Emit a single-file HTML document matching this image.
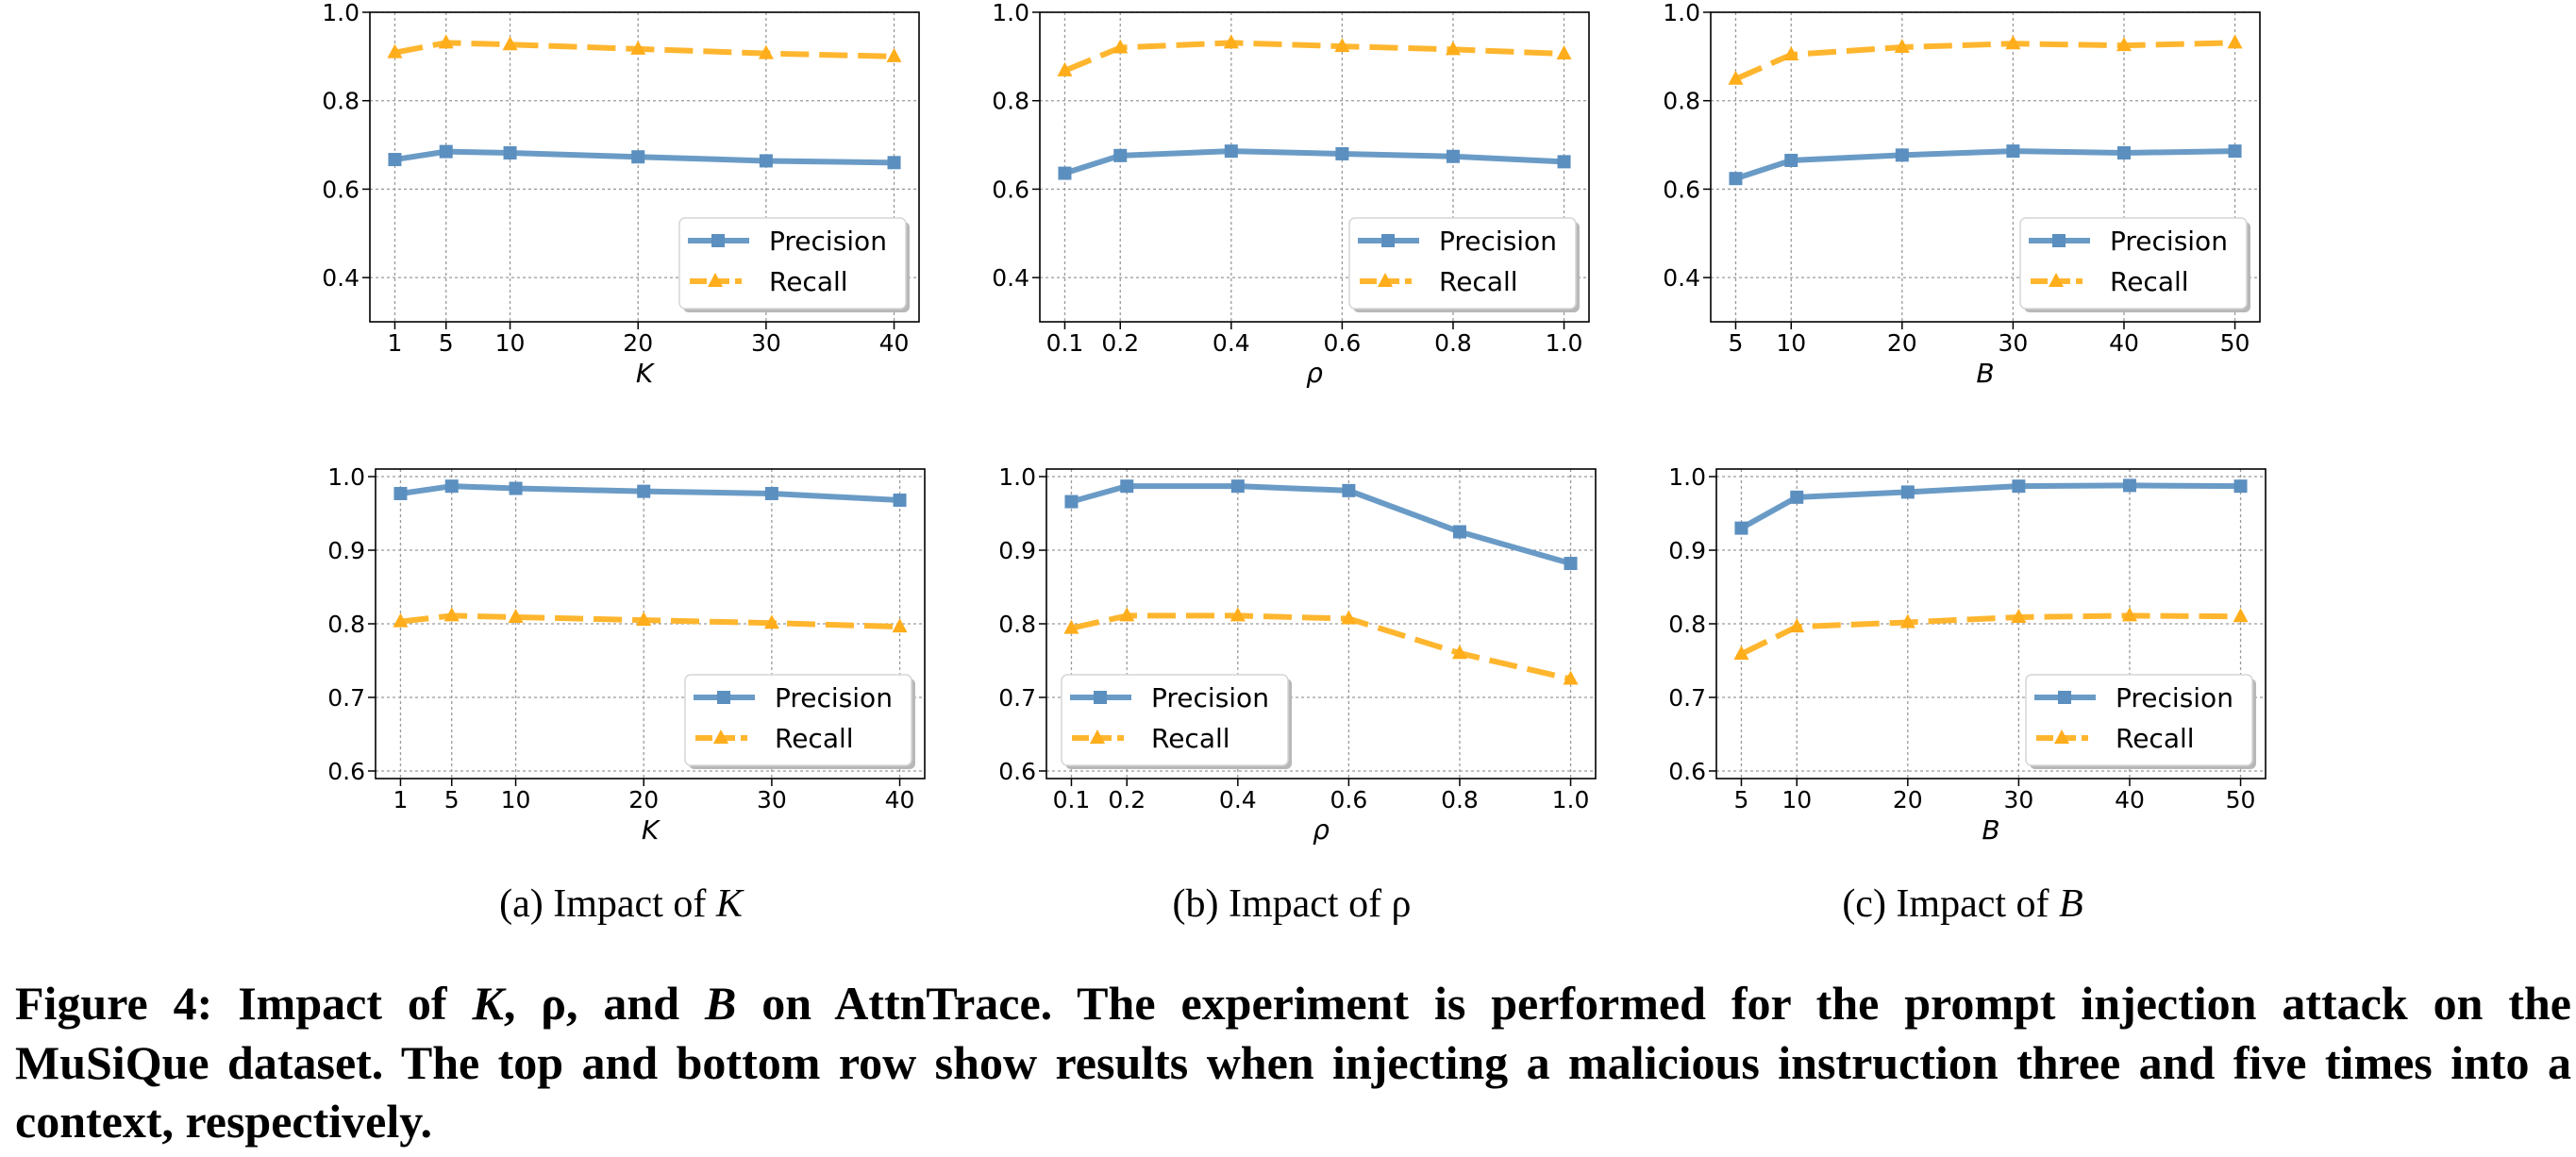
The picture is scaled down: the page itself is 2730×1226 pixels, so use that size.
<!DOCTYPE html>
<html><head><meta charset="utf-8">
<style>
html,body{margin:0;padding:0;background:#fff;}
body{width:2730px;height:1226px;position:relative;overflow:hidden;}
svg{position:absolute;left:0;top:0;}
.cap{position:absolute;font-family:"Liberation Serif",serif;color:#000;}
.sub{font-size:42px;top:934px;white-space:nowrap;transform:translateX(-50%);}
.line{left:16px;width:2709px;font-size:50px;font-weight:bold;text-align:justify;text-align-last:justify;white-space:nowrap;height:60px;line-height:60px;}
</style></head>
<body>
<svg id="fig" width="2730" height="1226" xmlns="http://www.w3.org/2000/svg"></svg>

<div class="cap sub" style="left:658px">(a) Impact of <i>K</i></div>
<div class="cap sub" style="left:1369px">(b) Impact of ρ</div>
<div class="cap sub" style="left:2080px">(c) Impact of <i>B</i></div>

<div class="cap line" style="top:1033px;white-space:normal">Figure 4: Impact of <i>K</i>, ρ, and <i>B</i> on AttnTrace. The experiment is performed for the prompt injection attack on the</div>
<div class="cap line" style="top:1096px;white-space:normal">MuSiQue dataset. The top and bottom row show results when injecting a malicious instruction three and five times into a</div>
<div class="cap line" style="top:1158px;text-align-last:left">context, respectively.</div>

<script>
const xK = [1, 5, 10, 20, 30, 40];
const xRho = [0.1, 0.2, 0.4, 0.6, 0.8, 1.0];
const xB = [5, 10, 20, 30, 40, 50];
const xKLabels = ["1", "5", "10", "20", "30", "40"];
const xRhoLabels = ["0.1", "0.2", "0.4", "0.6", "0.8", "1.0"];
const xBLabels = ["5", "10", "20", "30", "40", "50"];
const yTopTicks = [0.4, 0.6, 0.8, 1.0];
const yBotTicks = [0.6, 0.7, 0.8, 0.9, 1.0];

const precTopK = [0.667, 0.685, 0.682, 0.673, 0.664, 0.660];
const recTopK = [0.909, 0.931, 0.927, 0.917, 0.907, 0.900];
const precTopRho = [0.636, 0.676, 0.686, 0.680, 0.674, 0.662];
const recTopRho = [0.868, 0.920, 0.931, 0.923, 0.916, 0.906];
const precTopB = [0.624, 0.665, 0.677, 0.686, 0.682, 0.686];
const recTopB = [0.849, 0.904, 0.921, 0.929, 0.925, 0.931];
const precBotK = [0.977, 0.987, 0.984, 0.980, 0.977, 0.968];
const recBotK = [0.803, 0.811, 0.809, 0.805, 0.801, 0.796];
const precBotRho = [0.966, 0.987, 0.987, 0.981, 0.925, 0.882];
const recBotRho = [0.794, 0.811, 0.811, 0.807, 0.760, 0.725];
const precBotB = [0.930, 0.972, 0.979, 0.987, 0.988, 0.987];
const recBotB = [0.759, 0.796, 0.802, 0.809, 0.811, 0.810];

const NS = "http://www.w3.org/2000/svg";
const svg = document.getElementById("fig");
const BLUE = "#6a9bc6", ORANGE = "#ffb62f";

function mk(tag, attrs, parent) {
  const e = document.createElementNS(NS, tag);
  for (const k in attrs) e.setAttribute(k, attrs[k]);
  (parent || svg).appendChild(e);
  return e;
}

function panel(p) {
  const g = mk("g", {});
  
  
  const xs = v => p.left + (v - p.xmin) / (p.xmax - p.xmin) * p.w;
  const ys = v => p.top + (p.ymax - v) / (p.ymax - p.ymin) * p.h;
  const bottom = p.top + p.h;
  // grid
  p.xv.forEach((v, i) => {
    const l = mk("line", {x1: xs(v), x2: xs(v), y1: p.top, y2: bottom, stroke: "#9a9a9a", "stroke-width": 1.3, "stroke-dasharray": "3,3"}, g);
    
    
    const tk = mk("line", {x1: xs(v), x2: xs(v), y1: bottom, y2: bottom + 8, stroke: "#000", "stroke-width": 1.5}, g);
    
    
    const t = mk("text", {x: xs(v), y: bottom + 31, "text-anchor": "middle", "font-family": "DejaVu Sans, sans-serif", "font-size": 25, fill: "#000"}, g);
    t.textContent = p.xl[i];
    
    
  });
  p.yt.forEach(v => {
    const l = mk("line", {x1: p.left, x2: p.left + p.w, y1: ys(v), y2: ys(v), stroke: "#9a9a9a", "stroke-width": 1.3, "stroke-dasharray": "3,3"}, g);
    
    
    const tk = mk("line", {x1: p.left - 8, x2: p.left, y1: ys(v), y2: ys(v), stroke: "#000", "stroke-width": 1.5}, g);
    
    
    const t = mk("text", {x: p.left - 11, y: ys(v) + 9, "text-anchor": "end", "font-family": "DejaVu Sans, sans-serif", "font-size": 25, fill: "#000"}, g);
    t.textContent = v.toFixed(1);
    
    
  });
  // series
  function series(vals, color, dashed, marker, nm) {
    const pts = p.xv.map((v, i) => xs(v) + "," + ys(vals[i])).join(" ");
    const pl = mk("polyline", {points: pts, fill: "none", stroke: color, "stroke-width": 6, "stroke-linejoin": "round"}, g);
    if (dashed) pl.setAttribute("stroke-dasharray", "30,11");
    
    
    p.xv.forEach((v, i) => {
      const cx = xs(v), cy = ys(vals[i]);
      let m;
      if (marker === "sq") m = mk("rect", {x: cx - 7, y: cy - 7, width: 14, height: 14, fill: "#5b8fbf"}, g);
      else m = mk("polygon", {points: `${cx},${cy - 9} ${cx - 8},${cy + 6} ${cx + 8},${cy + 6}`, fill: "#ffad1a"}, g);
      
      
    });
  }
  series(p.prec, BLUE, false, "sq", "precision");
  series(p.rec, ORANGE, true, "tri", "recall");
  // spine
  const fr = mk("rect", {x: p.left, y: p.top, width: p.w, height: p.h, fill: "none", stroke: "#000", "stroke-width": 1.6}, g);
  
  
  // x label
  const xl = mk("text", {x: p.left + p.w / 2, y: bottom + 64, "text-anchor": "middle", "font-family": "DejaVu Sans, sans-serif", "font-style": "italic", "font-size": 28, fill: "#000"}, g);
  xl.textContent = p.xlabel;
  
  
  // legend
  const lg = mk("g", {}, g);
  
  
  const lx = p.legLeft ? p.left + 16 : p.left + p.w - 254, ly = p.top + (p.top < 100 ? 218 : 218);
  mk("rect", {x: lx + 4, y: ly + 4, width: 240, height: 96, rx: 6, fill: "#b8b8b8"}, lg);
  mk("rect", {x: lx, y: ly, width: 240, height: 96, rx: 6, fill: "#fff", stroke: "#d6d6d6", "stroke-width": 1.5}, lg);
  mk("line", {x1: lx + 9, x2: lx + 74, y1: ly + 24, y2: ly + 24, stroke: BLUE, "stroke-width": 6}, lg);
  mk("rect", {x: lx + 34, y: ly + 17, width: 14, height: 14, fill: "#5b8fbf"}, lg);
  mk("line", {x1: lx + 11, x2: lx + 66, y1: ly + 67, y2: ly + 67, stroke: ORANGE, "stroke-width": 6, "stroke-dasharray": "18,6"}, lg);
  const tx = lx + 38;
  mk("polygon", {points: `${tx},${ly + 58} ${tx - 8},${ly + 73} ${tx + 8},${ly + 73}`, fill: "#ffad1a"}, lg);
  const t1 = mk("text", {x: lx + 95, y: ly + 34, "font-family": "DejaVu Sans, sans-serif", "font-size": 28, fill: "#000"}, lg);
  t1.textContent = "Precision";
  
  
  const t2 = mk("text", {x: lx + 95, y: ly + 77, "font-family": "DejaVu Sans, sans-serif", "font-size": 28, fill: "#000"}, lg);
  t2.textContent = "Recall";
  
  
}

const W = 582, H = 328;
panel({name: "top-k-chart", left: 392, top: 13, w: W, h: H, xmin: -0.95, xmax: 41.95, ymin: 0.3, ymax: 1.0, xv: xK, xl: xKLabels, yt: yTopTicks, prec: precTopK, rec: recTopK, xlabel: "K"});
panel({name: "top-rho-chart", left: 1102, top: 13, w: W, h: H, xmin: 0.055, xmax: 1.045, ymin: 0.3, ymax: 1.0, xv: xRho, xl: xRhoLabels, yt: yTopTicks, prec: precTopRho, rec: recTopRho, xlabel: "ρ"});
panel({name: "top-b-chart", left: 1813, top: 13, w: W, h: H, xmin: 2.75, xmax: 52.25, ymin: 0.3, ymax: 1.0, xv: xB, xl: xBLabels, yt: yTopTicks, prec: precTopB, rec: recTopB, xlabel: "B"});
panel({name: "bottom-k-chart", left: 398, top: 497, w: W, h: H, xmin: -0.95, xmax: 41.95, ymin: 0.5897, ymax: 1.0103, xv: xK, xl: xKLabels, yt: yBotTicks, prec: precBotK, rec: recBotK, xlabel: "K"});
panel({name: "bottom-rho-chart", left: 1109, top: 497, w: W, h: H, xmin: 0.055, xmax: 1.045, ymin: 0.5897, ymax: 1.0103, xv: xRho, xl: xRhoLabels, yt: yBotTicks, prec: precBotRho, rec: recBotRho, xlabel: "ρ", legLeft: true});
panel({name: "bottom-b-chart", left: 1819, top: 497, w: W, h: H, xmin: 2.75, xmax: 52.25, ymin: 0.5897, ymax: 1.0103, xv: xB, xl: xBLabels, yt: yBotTicks, prec: precBotB, rec: recBotB, xlabel: "B"});
</script>
</body></html>
